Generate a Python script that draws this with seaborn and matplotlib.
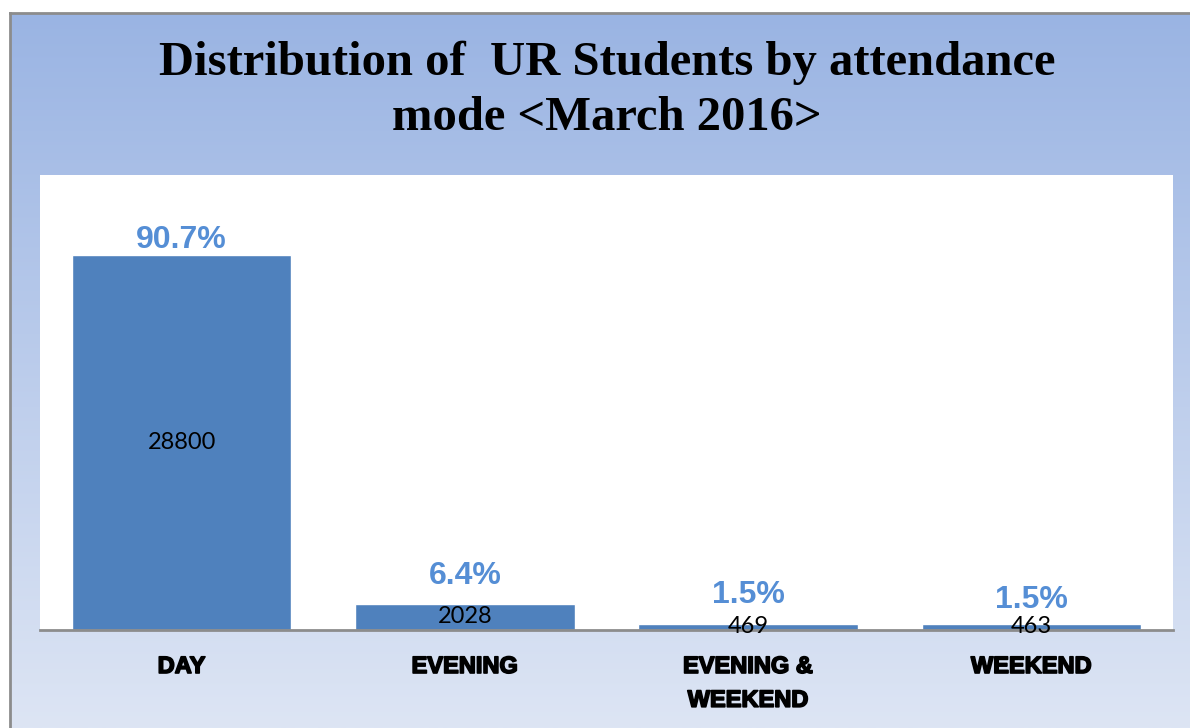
import numpy as np
import pandas as pd
import matplotlib
matplotlib.use("Agg")
import matplotlib.pyplot as plt
import matplotlib.patheffects as pe
import seaborn as sns
from matplotlib.colors import LinearSegmentedColormap

# data
modes = ["DAY", "EVENING", "EVENING &\nWEEKEND", "WEEKEND"]
students = [28800, 2028, 469, 463]
shares = [90.7, 6.4, 1.5, 1.5]

df = pd.DataFrame({"mode": modes, "students": students})

sns.set_theme(style="white")

W, H = 1190, 728
fig = plt.figure(figsize=(W / 100, H / 100), dpi=100)
fig.patch.set_facecolor("white")

# gradient background panel with grey frame
bg = fig.add_axes([10 / W, 0, (W - 10) / W, (H - 13) / H])
grad = np.linspace(0, 1, 256).reshape(-1, 1)
cmap = LinearSegmentedColormap.from_list("bg", ["#9AB4E3", "#DDE5F4"])
bg.imshow(grad, aspect="auto", cmap=cmap, extent=[0, 1, 0, 1], origin="upper")
bg.set_xticks([])
bg.set_yticks([])
for side in ["right", "bottom"]:
    bg.spines[side].set_visible(False)
for side in ["left", "top"]:
    bg.spines[side].set_color("#8C8C8C")
    bg.spines[side].set_linewidth(2)

fig.text(607 / W, 1 - 90 / H, "Distribution of  UR Students by attendance\nmode <March 2016>",
         ha="center", va="center", fontsize=35, fontweight="bold",
         family="Liberation Serif", linespacing=1.32, color="black")

# plot area
ax = fig.add_axes([40 / W, (H - 630) / H, 1133 / W, 455 / H])
ax.set_facecolor("white")
sns.barplot(data=df, x="mode", y="students", color="#4F81BD", width=0.775,
            saturation=1, ax=ax)
ax.set_ylim(0, 34950)
ax.set_xlim(-0.5, 3.5)
ax.set_yticks([])
ax.set_xlabel("")
ax.set_ylabel("")
for side in ["left", "right", "top"]:
    ax.spines[side].set_visible(False)
ax.spines["bottom"].set_color("#8C8C8C")
ax.spines["bottom"].set_linewidth(2)
ax.tick_params(axis="x", length=0, pad=18)
for lab in ax.get_xticklabels():
    lab.set_fontsize(17)
    lab.set_fontweight("bold")
    lab.set_family("Liberation Sans")
    lab.set_linespacing(1.6)
    lab.set_color("black")
    lab.set_path_effects([pe.withStroke(linewidth=1.2, foreground="black")])

pct_offsets = [11, 20, 21, 17]
for i, (n, p) in enumerate(zip(students, shares)):
    ax.text(i, n / 2, str(n), ha="center", va="center", fontsize=17,
            family="Lato", color="black")
    ax.annotate(f"{p}%", (i, n), xytext=(0, pct_offsets[i]), textcoords="offset points",
                ha="center", va="center", fontsize=23, fontweight="bold",
                family="Liberation Sans", color="#558ED5")

fig.savefig("out.png", dpi=100)
